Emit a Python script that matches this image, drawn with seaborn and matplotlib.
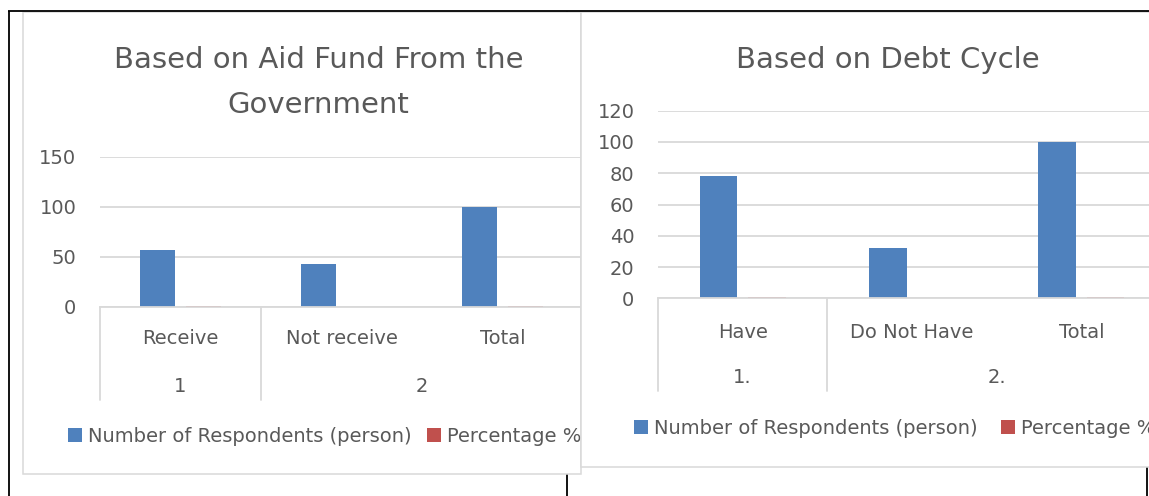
import matplotlib
matplotlib.use("Agg")
import matplotlib.pyplot as plt
from matplotlib.patches import Rectangle
from matplotlib.lines import Line2D
from matplotlib.transforms import blended_transform_factory
import pandas as pd
import seaborn as sns

# ---- data -------------------------------------------------------------
series_names = ["Number of Respondents (person)", "Percentage %"]

aid_categories = ["Receive", "Not receive", "Total"]
aid_respondents = [57, 43, 100]
aid_percentage = [0.57, 0.43, 1.00]
aid_groups = ["1", "2"]
aid_title = ["Based on Aid Fund From the", "Government"]

debt_categories = ["Have", "Do Not Have", "Total"]
debt_respondents = [78, 32, 100]
debt_percentage = [0.78, 0.32, 1.00]
debt_groups = ["1.", "2."]
debt_title = ["Based on Debt Cycle"]

# ---- style ------------------------------------------------------------
sns.set_style("white")
plt.rcParams["font.family"] = ["DejaVu Sans"]
BLUE = "#4F81BD"
RED = "#C0504D"
TEXT = "#595959"
GRID = "#D9D9D9"

W, H = 1149, 496
fig = plt.figure(figsize=(W / 100, H / 100), dpi=100)


def fx(px):
    return px / W


def fy(py):
    return 1 - py / H


def frame_line(x0, y0, x1, y1, z):
    fig.add_artist(Line2D([fx(x0), fx(x1)], [fy(y0), fy(y1)],
                          transform=fig.transFigure, color="black",
                          lw=1.3, zorder=z, solid_capstyle="butt"))


# table rules behind the two charts
frame_line(8, 11, 1149, 11, 20)
frame_line(9, 11, 9, 496, 0.5)
frame_line(567, 11, 567, 496, 0.5)
frame_line(1147, 11, 1147, 496, 0.5)


def panel(x0, y0, x1, y1, z):
    fig.add_artist(Rectangle((fx(x0), fy(y1)), (x1 - x0) / W, (y1 - y0) / H,
                             transform=fig.transFigure, facecolor="white",
                             edgecolor=GRID, lw=1.1, zorder=z))


def draw_chart(box, categories, respondents, percentage, groups, ymax, ystep,
               title_lines, title_x, title_base, legend_xy, colspace,
               xpad, z):
    left, top, right, bottom = box
    ax = fig.add_axes([fx(left), fy(bottom), (right - left) / W, (bottom - top) / H])
    ax.set_zorder(z)
    height_px = bottom - top

    df = pd.DataFrame({
        "category": categories * 2,
        "series": [series_names[0]] * 3 + [series_names[1]] * 3,
        "value": list(respondents) + list(percentage),
    })
    sns.barplot(data=df, x="category", y="value", hue="series",
                order=categories, hue_order=series_names,
                palette=[BLUE, RED], saturation=1, width=0.57, gap=0.22,
                linewidth=0, errorbar=None, ax=ax)

    ax.set_xlim(-0.5, 2.5)
    ax.set_ylim(0, ymax)
    ax.set_yticks(range(0, ymax + 1, ystep))
    ax.set_xlabel("")
    ax.set_ylabel("")
    ax.set_axisbelow(True)
    ax.yaxis.grid(True, color=GRID, lw=1.3)
    ax.xaxis.grid(False)
    for s in ["left", "top", "right"]:
        ax.spines[s].set_visible(False)
    ax.spines["bottom"].set_color(GRID)
    ax.spines["bottom"].set_linewidth(1.3)
    ax.tick_params(axis="both", length=0, labelsize=14, labelcolor=TEXT)
    ax.tick_params(axis="x", pad=xpad)
    ax.tick_params(axis="y", pad=17)
    ax.patch.set_alpha(0)

    # two-level category axis: separators and group labels
    trans = blended_transform_factory(ax.transData, ax.transAxes)
    sep_y = -93 / height_px
    for x in (-0.5, 0.5):
        ax.add_line(Line2D([x, x], [0, sep_y], transform=trans, color=GRID,
                           lw=1.3, clip_on=False))
    for x, g in zip((0, 1.5), groups):
        ax.text(x, -85 / height_px, g, transform=trans, ha="center",
                va="baseline", fontsize=14, color=TEXT)

    handles, labels = ax.get_legend_handles_labels()
    ax.legend(handles, labels, loc="center left",
              bbox_to_anchor=(fx(legend_xy[0]), fy(legend_xy[1])),
              bbox_transform=fig.transFigure, ncol=2, frameon=False,
              fontsize=14, labelcolor=TEXT, handlelength=0.72,
              handleheight=0.72, handletextpad=0.31, columnspacing=colspace,
              borderpad=0, borderaxespad=0)

    for i, line in enumerate(title_lines):
        fig.text(fx(title_x), fy(title_base + 45 * i), line, ha="center",
                 va="baseline", fontsize=21, color=TEXT, zorder=z + 0.5)
    return ax


# left chart
panel(22.5, 11.5, 581, 474, 1)
draw_chart((100, 157, 583, 307), aid_categories, aid_respondents,
           aid_percentage, aid_groups, 150, 50, aid_title, 318.5, 68,
           (68, 436), 0.79, 16, 2)

# right chart, laid over the left one
panel(581, 11.5, 1175, 466.5, 3)
draw_chart((658, 110.7, 1166, 298.3), debt_categories, debt_respondents,
           debt_percentage, debt_groups, 120, 20, debt_title, 888, 68,
           (634, 428), 1.18, 17.5, 4)

fig.savefig("out.png", dpi=100)
